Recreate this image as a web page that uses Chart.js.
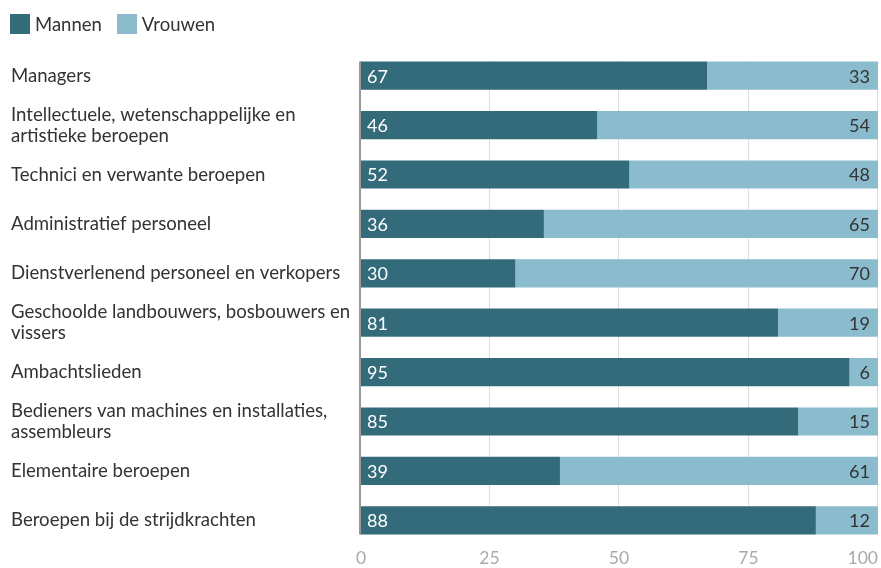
<!DOCTYPE html>
<html><head><meta charset="utf-8">
<script src="https://cdn.jsdelivr.net/npm/chart.js@4"></script>
<style>
html,body{margin:0;padding:0;background:#fff;}
#wrap{position:relative;width:881px;height:568px;}
#legend{position:absolute;left:10px;top:13px;font-family:Lato,sans-serif;font-size:18.5px;color:#333;display:flex;align-items:center;line-height:22px;}
#legend span.box{display:inline-block;width:20px;height:20px;margin-right:5px;}
#legend span.item{display:flex;align-items:center;margin-right:15px;}
</style></head>
<body><div id="wrap"><div id="legend"></div><canvas id="c"></canvas></div>
<script>
const categories = [
  "Managers",
  ["Intellectuele, wetenschappelijke en","artistieke beroepen"],
  "Technici en verwante beroepen",
  "Administratief personeel",
  "Dienstverlenend personeel en verkopers",
  ["Geschoolde landbouwers, bosbouwers en","vissers"],
  "Ambachtslieden",
  ["Bedieners van machines en installaties,","assembleurs"],
  "Elementaire beroepen",
  "Beroepen bij de strijdkrachten"
];
const mannen  = [67,45.8,52,35.5,30,80.7,94.5,84.6,38.6,88];
const vrouwen = [33,54.2,48,64.5,70,19.3,5.5,15.4,61.4,12];
const xTicks = [0,25,50,75,100];
const seriesNames = ["Mannen","Vrouwen"];
const colors = ["#336b7a","#8bbccd"];

const lg = document.getElementById('legend');
seriesNames.forEach((n,i)=>{
  const it=document.createElement('span');it.className='item';
  it.innerHTML='<span class="box" style="background:'+colors[i]+'"></span>'+n;
  lg.appendChild(it);
});

const FONT = "Lato, sans-serif";
const gridPlugin = {
  id:'grid',
  beforeDatasetsDraw(chart){
    const ctx=chart.ctx, xs=chart.scales.x;
    const d=chart.getDatasetMeta(0).data;
    const top=d[0].y-d[0].height/2, bot=d[d.length-1].y+d[d.length-1].height/2;
    ctx.save();
    ctx.strokeStyle='#dddddd';ctx.lineWidth=1;
    xTicks.slice(1).forEach(v=>{
      const x=Math.round(xs.getPixelForValue(v))-0.5;
      ctx.beginPath();ctx.moveTo(x,top);ctx.lineTo(x,bot);ctx.stroke();
    });
    ctx.restore();
  },
  afterDatasetsDraw(chart){
    const ctx=chart.ctx, ca=chart.chartArea, xs=chart.scales.x;
    const d=chart.getDatasetMeta(0).data;
    const top=d[0].y-d[0].height/2, bot=d[d.length-1].y+d[d.length-1].height/2;
    ctx.save();
    ctx.strokeStyle='#999';ctx.lineWidth=2;
    const x0=xs.getPixelForValue(0);
    ctx.beginPath();ctx.moveTo(x0,top);ctx.lineTo(x0,bot);ctx.stroke();
    ctx.font='18px '+FONT;
    ctx.textBaseline='middle';
    chart.getDatasetMeta(0).data.forEach((b,i)=>{
      ctx.fillStyle='#fff';ctx.textAlign='left';
      ctx.fillText(String(Math.round(mannen[i])), b.base+7, b.y+1);
    });
    chart.getDatasetMeta(1).data.forEach((b,i)=>{
      ctx.fillStyle='#333';ctx.textAlign='right';
      ctx.fillText(String(Math.round(vrouwen[i])), Math.min(b.x, ca.right)-8, b.y+1);
    });
    ctx.font='17.5px '+FONT;
    ctx.fillStyle='#aaa';
    xTicks.forEach((v,i)=>{
      ctx.textAlign = (i===xTicks.length-1)?'right':'center';
      ctx.fillText(String(v), xs.getPixelForValue(v) + (i===0?1:0), 558);
    });
    ctx.restore();
  }
};

new Chart(document.getElementById('c'),{
  type:'bar',
  data:{labels:categories,datasets:[
    {label:seriesNames[0],data:mannen,backgroundColor:colors[0],barPercentage:0.57,categoryPercentage:1},
    {label:seriesNames[1],data:vrouwen,backgroundColor:colors[1],barPercentage:0.57,categoryPercentage:1}
  ]},
  options:{
    indexAxis:'y',responsive:true,maintainAspectRatio:false,animation:false,
    layout:{padding:{top:51,left:11,right:3,bottom:0}},
    plugins:{legend:{display:false},tooltip:{enabled:false}},
    scales:{
      x:{stacked:true,min:0,max:100,
        ticks:{display:false,stepSize:25},
        grid:{display:false,drawTicks:false},
        border:{display:false},
        afterFit(s){s.height=23;}
      },
      y:{stacked:true,
        ticks:{crossAlign:'far',color:'#333',font:{family:FONT,size:18.6,lineHeight:1.13},padding:0},
        grid:{display:false,drawTicks:false},
        border:{display:false},
        afterFit(s){s.width=349;}
      }
    }
  },
  plugins:[gridPlugin]
});
</script></body></html>
